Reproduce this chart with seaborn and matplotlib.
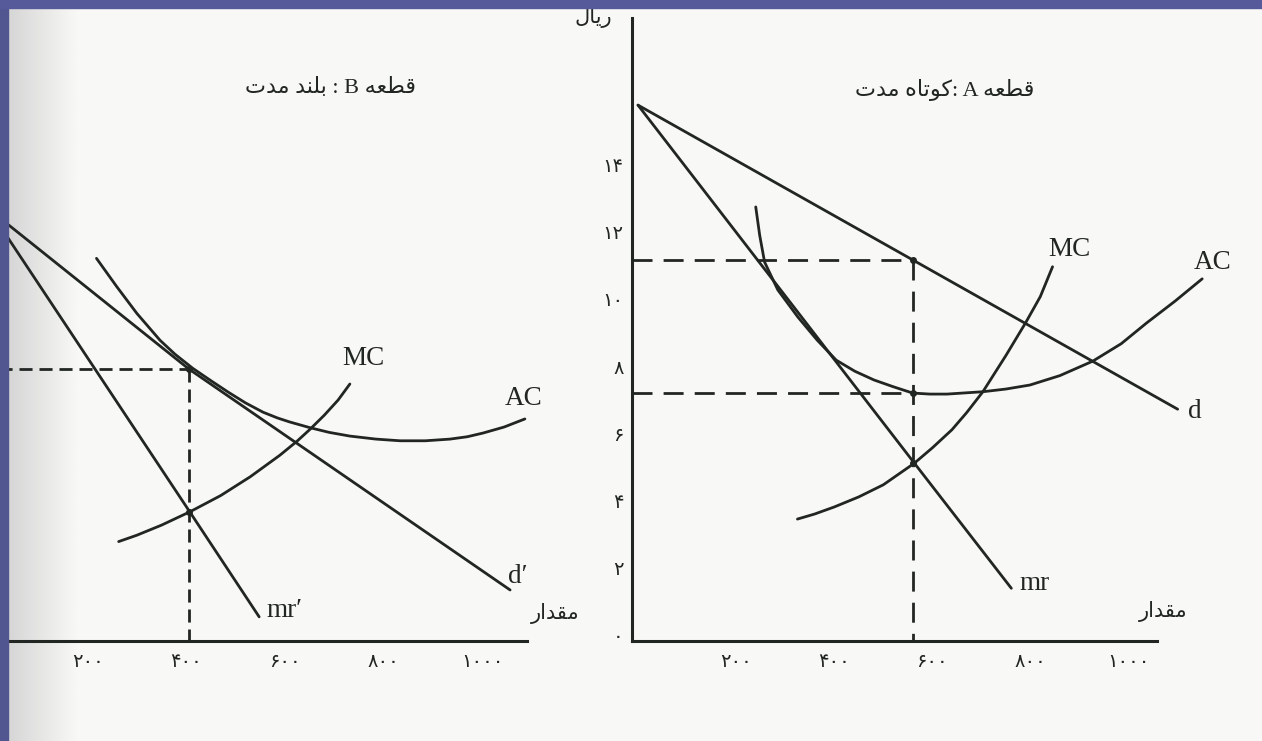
import numpy as np
import pandas as pd
import matplotlib
matplotlib.use("Agg")
import matplotlib.pyplot as plt
from matplotlib.colors import LinearSegmentedColormap
from matplotlib.patches import Rectangle
import seaborn as sns

# ---- panel A (short run, right side) ----
a_d_q = [0, 1100]
a_d_p = [15.8, 6.75]
a_mr_q = [0, 563, 761]
a_mr_p = [15.8, 5.15, 1.42]
a_mc_q = [325, 360, 400, 450, 500, 563, 600, 640, 670, 703, 750, 790, 820, 845]
a_mc_p = [3.48, 3.63, 3.84, 4.14, 4.5, 5.14, 5.6, 6.14, 6.65, 7.27, 8.35, 9.32, 10.1, 10.99]
a_ac_q = [240, 248, 258, 285, 326, 365, 404, 442, 481, 520, 560, 595, 630, 703,
          750, 799, 860, 927, 985, 1037, 1095, 1150]
a_ac_p = [12.77, 11.93, 11.13, 10.3, 9.49, 8.81, 8.21, 7.88, 7.62, 7.42, 7.23, 7.2, 7.2, 7.27,
          7.35, 7.47, 7.75, 8.18, 8.7, 9.32, 9.97, 10.63]
a_q_star = 560
a_price = 11.2
a_cost = 7.23
a_mc_star = 5.14

# ---- panel B (long run, left side) ----
b_d_q = [0, 405, 1057]
b_d_p = [12.7, 7.95, 1.37]
b_mr_q = [0, 407, 548]
b_mr_p = [12.7, 3.7, 0.57]
b_mc_q = [263, 300, 350, 408, 470, 530, 590, 625, 651, 680, 708, 732]
b_mc_p = [2.81, 3.0, 3.3, 3.7, 4.18, 4.74, 5.38, 5.8, 6.15, 6.57, 7.02, 7.5]
b_ac_q = [218, 259, 300, 347, 377, 413, 450, 485, 520, 556, 585, 610, 651, 690, 732,
          785, 834, 885, 935, 970, 1002, 1045, 1087]
b_ac_p = [11.24, 10.4, 9.6, 8.8, 8.39, 7.97, 7.6, 7.26, 6.94, 6.66, 6.49, 6.37, 6.2, 6.06, 5.95,
          5.86, 5.81, 5.81, 5.86, 5.93, 6.04, 6.22, 6.46]
b_q_star = 405
b_price = 7.95
b_mc_star = 3.7

x_ticks = [200, 400, 600, 800, 1000]
x_tick_labels = ["۲۰۰", "۴۰۰", "۶۰۰", "۸۰۰", "۱۰۰۰"]
y_ticks = [0, 2, 4, 6, 8, 10, 12, 14]
y_tick_labels = ["۰", "۲", "۴", "۶", "۸", "۱۰", "۱۲", "۱۴"]

# persian words, already shaped and in visual order (matplotlib has no bidi)
txt_rial = "\uFEDD\uFE8E\uFEF3\uFEAD"                       # ریال
txt_qty = "\uFEAD\uFE8D\uFEAA\uFED8\uFEE3"                  # مقدار
txt_title_a = "\uFE95\uFEAA\uFEE3 \uFEE9\uFE8E\uFE97\uFEEE\uFEDB: A \uFEEA\uFECC\uFEC4\uFED7"
txt_title_b = "\uFE95\uFEAA\uFEE3 \uFEAA\uFEE8\uFEE0\uFE91 : B \uFEEA\uFECC\uFEC4\uFED7"

W, H = 1262, 741
INK = "#222622"
PAPER = "#f8f8f6"

sns.set_style("white")
plt.rcParams["font.family"] = ["Liberation Serif", "DejaVu Sans"]

fig = plt.figure(figsize=(W / 100, H / 100), dpi=100, facecolor=PAPER)

# greyish shading of the scan near the binding
shade = fig.add_axes([8 / W, 0, 70 / W, 1], zorder=-1)
shade.imshow(np.linspace(0, 1, 64)[None, :], aspect="auto",
             cmap=LinearSegmentedColormap.from_list("scan", ["#d6d6d6", PAPER]))
shade.axis("off")


def panel_axes(x0_px, sx, y0_px, sy):
    # axes over the whole figure, scaled so data lands where the scan has it
    ax = fig.add_axes([0, 0, 1, 1])
    ax.set_xlim(-x0_px / sx, (W - x0_px) / sx)
    ax.set_ylim((y0_px - H) / sy, y0_px / sy)
    ax.patch.set_alpha(0)
    for s in ["top", "right"]:
        ax.spines[s].set_visible(False)
    return ax


def curve(ax, q, p):
    df = pd.DataFrame({"q": q, "p": p})
    sns.lineplot(data=df, x="q", y="p", sort=False, estimator=None,
                 color=INK, lw=2.0, ax=ax)


def guide(ax, xs, ys, dash):
    ax.plot(xs, ys, color=INK, lw=2.0, dashes=dash, solid_capstyle="butt")


label_kw = dict(color=INK, fontsize=19.5, ha="center", va="center")
fa_kw = dict(color=INK, fontsize=15, ha="center", va="center")
title_kw = dict(color=INK, fontsize=16, ha="center", va="center")

# ---------------- right panel ----------------
axA = panel_axes(638, 0.4906, 636, 33.6)
for q, p in [(a_d_q, a_d_p), (a_mr_q, a_mr_p), (a_mc_q, a_mc_p), (a_ac_q, a_ac_p)]:
    curve(axA, q, p)
guide(axA, [-12, a_q_star], [a_price, a_price], (7.2, 4))
guide(axA, [-12, a_q_star], [a_cost, a_cost], (7.2, 4))
guide(axA, [a_q_star, a_q_star], [a_price, -0.15], (7.2, 4))
axA.plot([a_q_star] * 3, [a_price, a_cost, a_mc_star], "o", color=INK, ms=4)

axA.spines["left"].set_position(("data", -12))
axA.spines["left"].set_bounds(-0.15, 18.4)
axA.spines["bottom"].set_position(("data", -0.15))
axA.spines["bottom"].set_bounds(-12, 1058)
for s in ["left", "bottom"]:
    axA.spines[s].set_linewidth(2.2)
    axA.spines[s].set_color(INK)
axA.set_xticks(x_ticks, x_tick_labels)
axA.set_yticks(y_ticks, y_tick_labels)
axA.tick_params(axis="x", direction="out", length=7, width=2, color=INK,
                pad=2, labelsize=14, labelcolor=INK)
axA.tick_params(axis="y", length=0, pad=6, labelsize=14, labelcolor=INK)
axA.set_xlabel("")
axA.set_ylabel("")

axA.text(880, 11.49, "MC", **label_kw)
axA.text(1172, 11.13, "AC", **label_kw)
axA.text(1135, 6.67, "d", **label_kw)
axA.text(808, 1.57, "mr", **label_kw)
axA.text(1070, 0.72, txt_qty, **fa_kw)
axA.text(-92, 18.4, txt_rial, **fa_kw)
axA.text(626, 16.25, txt_title_a, **title_kw)

# ---------------- left panel ----------------
axB = panel_axes(-11, 0.493, 636, 33.6)
for q, p in [(b_d_q, b_d_p), (b_mr_q, b_mr_p), (b_mc_q, b_mc_p), (b_ac_q, b_ac_p)]:
    curve(axB, q, p)
guide(axB, [-30, b_q_star], [b_price, b_price], (4.7, 2.5))
guide(axB, [b_q_star, b_q_star], [b_price, -0.15], (4.7, 2.5))
axB.plot([b_q_star, b_q_star], [b_price, b_mc_star], "o", color=INK, ms=4)

axB.spines["left"].set_visible(False)
axB.spines["bottom"].set_position(("data", -0.15))
axB.spines["bottom"].set_bounds(-30, 1091)
axB.spines["bottom"].set_linewidth(2.2)
axB.spines["bottom"].set_color(INK)
axB.set_xticks(x_ticks, x_tick_labels)
axB.set_yticks([])
axB.tick_params(axis="x", direction="out", length=7, width=2, color=INK,
                pad=2, labelsize=14, labelcolor=INK)
axB.set_xlabel("")
axB.set_ylabel("")

axB.text(759, 8.27, "MC", **label_kw)
axB.text(1085, 7.08, "AC", **label_kw)
axB.text(1073, 1.76, "d\u2032", **label_kw)
axB.text(600, 0.77, "mr\u2032", **label_kw)
axB.text(1148, 0.68, txt_qty, **fa_kw)
axB.text(692, 16.3, txt_title_b, **title_kw)

# slide frame bits along the top and left edge
fig.patches.append(Rectangle((0, 0), 8 / W, 1, transform=fig.transFigure,
                             color="#525690", zorder=10))
fig.patches.append(Rectangle((0, 1 - 8 / H), 1, 8 / H, transform=fig.transFigure,
                             color="#56599a", zorder=10))

fig.savefig("out.png", dpi=100, facecolor=PAPER)
